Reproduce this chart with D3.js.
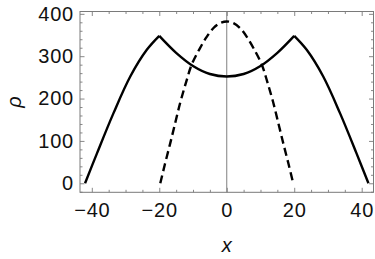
<!DOCTYPE html>
<html>
<head>
<meta charset="utf-8">
<script src="https://cdn.jsdelivr.net/npm/d3@7"></script>
<style>
  body { margin: 0; background: #fff; }
  svg { display: block; }
  .tick text { font-family: "Liberation Sans", Arial, sans-serif; font-size: 20px; letter-spacing: 0.8px; fill: #111; }
  .label { font-family: "Liberation Sans", Arial, sans-serif; font-size: 20px; font-style: italic; fill: #111; }
</style>
</head>
<body>
<div class="viz"></div>
<script>
// values
// solid curve: left outer branch, inner bowl, right outer branch
var solidLeftX  = [-42, -38.5, -33.6, -28.6, -23.7, -20];
var solidLeftY  = [0, 70, 165, 252, 315, 348];
var solidInnerX = [-20, -15, -10, -5, 0, 5, 10, 15, 20];
var solidInnerY = [348, 308, 277, 258, 252, 258, 277, 308, 348];
var solidRightX = [20, 23.7, 28.6, 33.6, 38.5, 42];
var solidRightY = [348, 315, 252, 165, 70, 0];

// dashed curve
var dashX = [-19.7, -18.3, -16.8, -15.5, -13.8, -12, -10.4, -8, -6, -4, -2, 0,
             2, 4, 6, 8, 10.4, 12, 13.8, 15.5, 16.8, 18.3, 19.7];
var dashY = [0, 46, 93, 135, 190, 240, 280, 318, 345, 366, 378, 382,
             378, 366, 345, 318, 280, 240, 190, 135, 93, 46, 0];

var xTicks = [-40, -20, 0, 20, 40];
var yTicks = [0, 100, 200, 300, 400];

var W = 375, H = 259;
var fLeft = 80, fRight = 373.5, fTop = 11.5, fBottom = 192.3;

var svg = d3.select('.viz').append('svg')
  .attr('width', W)
  .attr('height', H);

var x = d3.scaleLinear().domain([-43.5, 43.5]).range([fLeft, fRight]);
var y = d3.scaleLinear().domain([-21.3, 405.5]).range([fBottom, fTop]);

var frameColor = '#7a7a7a';

// minor ticks
var xMinor = d3.range(-40, 41, 5).filter(function(v){ return xTicks.indexOf(v) < 0; });
var yMinor = d3.range(-20, 401, 20).filter(function(v){ return yTicks.indexOf(v) < 0; });

function addAxis(axis, tx, ty, labels) {
  var g = svg.append('g')
    .attr('transform', 'translate(' + tx + ',' + ty + ')')
    .call(axis);
  g.select('.domain').remove();
  g.selectAll('.tick line').attr('stroke', frameColor).attr('stroke-width', 0.9);
  if (!labels) g.selectAll('.tick text').remove();
  return g;
}

function fmt(v) { return v < 0 ? '\u2212' + Math.abs(v) : '' + v; }

// bottom
addAxis(d3.axisBottom(x).tickValues(xTicks).tickSize(-4.5).tickPadding(11).tickFormat(fmt), 0, fBottom, true);
addAxis(d3.axisBottom(x).tickValues(xMinor).tickSize(-2.5).tickFormat(''), 0, fBottom, false);
// top
addAxis(d3.axisTop(x).tickValues(xTicks).tickSize(-4.5).tickFormat(''), 0, fTop, false);
addAxis(d3.axisTop(x).tickValues(xMinor).tickSize(-2.5).tickFormat(''), 0, fTop, false);
// left
addAxis(d3.axisLeft(y).tickValues(yTicks).tickSize(-4.5).tickPadding(6).tickFormat(fmt), fLeft, 0, true);
addAxis(d3.axisLeft(y).tickValues(yMinor).tickSize(-2.5).tickFormat(''), fLeft, 0, false);
// right
addAxis(d3.axisRight(y).tickValues(yTicks).tickSize(-4.5).tickFormat(''), fRight, 0, false);
addAxis(d3.axisRight(y).tickValues(yMinor).tickSize(-2.5).tickFormat(''), fRight, 0, false);

// frame
svg.append('rect')
  .attr('x', fLeft).attr('y', fTop)
  .attr('width', fRight - fLeft).attr('height', fBottom - fTop)
  .attr('fill', 'none')
  .attr('stroke', frameColor)
  .attr('stroke-width', 1);

// vertical line at x = 0
svg.append('line')
  .attr('x1', x(0)).attr('x2', x(0))
  .attr('y1', fTop).attr('y2', fBottom)
  .attr('stroke', '#808080')
  .attr('stroke-width', 1);

var line = d3.line()
  .x(function(d){ return x(d[0]); })
  .y(function(d){ return y(d[1]); })
  .curve(d3.curveCatmullRom);

function pts(xs, ys) { return xs.map(function(v, i){ return [v, ys[i]]; }); }

[[solidLeftX, solidLeftY], [solidInnerX, solidInnerY], [solidRightX, solidRightY]].forEach(function(s){
  svg.append('path')
    .attr('d', line(pts(s[0], s[1])))
    .attr('fill', 'none')
    .attr('stroke', '#000')
    .attr('stroke-width', 2.4)
    .attr('stroke-linejoin', 'miter');
});

svg.append('path')
  .attr('d', line(pts(dashX, dashY)))
  .attr('fill', 'none')
  .attr('stroke', '#000')
  .attr('stroke-width', 2.4)
  .attr('stroke-dasharray', '8,4.5');

// axis labels
svg.append('text')
  .attr('class', 'label')
  .attr('text-anchor', 'middle')
  .attr('x', x(0))
  .attr('y', 251.7)
  .text('x');

svg.append('text')
  .attr('class', 'label')
  .attr('text-anchor', 'middle')
  .attr('transform', 'translate(21,102) rotate(-90)')
  .text('ρ');
</script>
</body>
</html>
